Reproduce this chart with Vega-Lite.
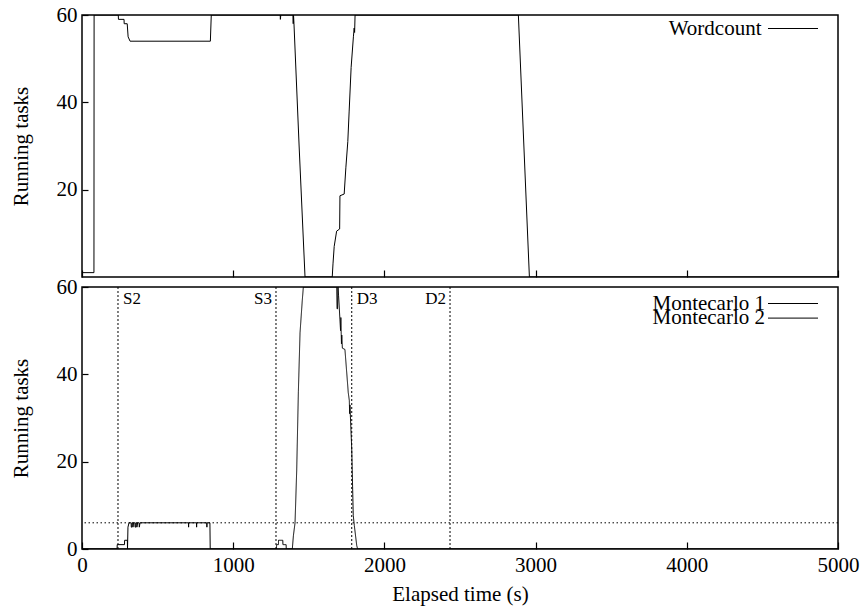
{
  "$schema": "https://vega.github.io/schema/vega-lite/v6.json",
  "padding": {"left": 9, "top": 3, "right": 4, "bottom": 4},
  "background": "white",
  "spacing": 10,
  "bounds": "flush",
  "resolve": {
    "scale": {"color": "independent", "strokeDash": "independent"},
    "legend": {"color": "independent", "strokeDash": "independent"}
  },
  "config": {
    "font": "Liberation Serif",
    "view": {"stroke": "black", "strokeWidth": 1.5},
    "text": {"font": "Liberation Serif"},
    "axis": {
      "domain": false,
      "grid": false,
      "ticks": true,
      "tickSize": -7,
      "tickColor": "black",
      "tickWidth": 1.2,
      "labelFont": "Liberation Serif",
      "labelFontSize": 21,
      "labelColor": "black",
      "labelPadding": 12,
      "labelFlush": false,
      "labelOverlap": false,
      "titleFont": "Liberation Serif",
      "titleFontSize": 21,
      "titleFontWeight": "normal",
      "titleColor": "black"
    }
  },
  "datasets": {
    "wordcount": [
      {"t": 0, "v": 1}, {"t": 79, "v": 1}, {"t": 80, "v": 60}, {"t": 240, "v": 60},
      {"t": 241, "v": 59}, {"t": 278, "v": 59}, {"t": 279, "v": 58}, {"t": 299, "v": 58},
      {"t": 305, "v": 55}, {"t": 318, "v": 54}, {"t": 849, "v": 54}, {"t": 855, "v": 60},
      {"t": 1311, "v": 60}, {"t": 1312, "v": 59}, {"t": 1315, "v": 60}, {"t": 1395, "v": 60},
      {"t": 1397, "v": 58}, {"t": 1399, "v": 60}, {"t": 1402, "v": 58}, {"t": 1436, "v": 30},
      {"t": 1475, "v": 0}, {"t": 1655, "v": 0}, {"t": 1660, "v": 3}, {"t": 1668, "v": 7},
      {"t": 1684, "v": 10.5}, {"t": 1704, "v": 11}, {"t": 1706, "v": 18.6}, {"t": 1734, "v": 19},
      {"t": 1745, "v": 25}, {"t": 1758, "v": 31}, {"t": 1767, "v": 38}, {"t": 1780, "v": 48},
      {"t": 1795, "v": 55}, {"t": 1800, "v": 57}, {"t": 1803, "v": 56}, {"t": 1806, "v": 60},
      {"t": 2886, "v": 60}, {"t": 2959, "v": 0}, {"t": 5000, "v": 0}
    ],
    "montecarlo": [
      {"series": "Montecarlo 1", "t": 0, "v": 0}, {"series": "Montecarlo 1", "t": 232, "v": 0},
      {"series": "Montecarlo 1", "t": 233, "v": 1}, {"series": "Montecarlo 1", "t": 281, "v": 1},
      {"series": "Montecarlo 1", "t": 282, "v": 2}, {"series": "Montecarlo 1", "t": 300, "v": 2},
      {"series": "Montecarlo 1", "t": 301, "v": 0}, {"series": "Montecarlo 1", "t": 304, "v": 5},
      {"series": "Montecarlo 1", "t": 311, "v": 6}, {"series": "Montecarlo 1", "t": 325, "v": 6},
      {"series": "Montecarlo 1", "t": 326, "v": 5}, {"series": "Montecarlo 1", "t": 330, "v": 5},
      {"series": "Montecarlo 1", "t": 331, "v": 6}, {"series": "Montecarlo 1", "t": 336, "v": 6},
      {"series": "Montecarlo 1", "t": 337, "v": 5}, {"series": "Montecarlo 1", "t": 341, "v": 6},
      {"series": "Montecarlo 1", "t": 350, "v": 6}, {"series": "Montecarlo 1", "t": 351, "v": 5},
      {"series": "Montecarlo 1", "t": 355, "v": 5}, {"series": "Montecarlo 1", "t": 356, "v": 6},
      {"series": "Montecarlo 1", "t": 362, "v": 6}, {"series": "Montecarlo 1", "t": 363, "v": 5},
      {"series": "Montecarlo 1", "t": 368, "v": 6}, {"series": "Montecarlo 1", "t": 378, "v": 6},
      {"series": "Montecarlo 1", "t": 379, "v": 5}, {"series": "Montecarlo 1", "t": 384, "v": 6},
      {"series": "Montecarlo 1", "t": 704, "v": 6}, {"series": "Montecarlo 1", "t": 705, "v": 5},
      {"series": "Montecarlo 1", "t": 706, "v": 6}, {"series": "Montecarlo 1", "t": 757, "v": 6},
      {"series": "Montecarlo 1", "t": 758, "v": 5}, {"series": "Montecarlo 1", "t": 759, "v": 6},
      {"series": "Montecarlo 1", "t": 825, "v": 6}, {"series": "Montecarlo 1", "t": 826, "v": 5},
      {"series": "Montecarlo 1", "t": 827, "v": 6}, {"series": "Montecarlo 1", "t": 846, "v": 6},
      {"series": "Montecarlo 1", "t": 848, "v": 0}, {"series": "Montecarlo 1", "t": 5000, "v": 0},
      {"series": "Montecarlo 2", "t": 0, "v": 0}, {"series": "Montecarlo 2", "t": 1286, "v": 0},
      {"series": "Montecarlo 2", "t": 1287, "v": 1}, {"series": "Montecarlo 2", "t": 1299, "v": 1},
      {"series": "Montecarlo 2", "t": 1300, "v": 2}, {"series": "Montecarlo 2", "t": 1328, "v": 2},
      {"series": "Montecarlo 2", "t": 1329, "v": 1}, {"series": "Montecarlo 2", "t": 1350, "v": 1},
      {"series": "Montecarlo 2", "t": 1351, "v": 0}, {"series": "Montecarlo 2", "t": 1391, "v": 0},
      {"series": "Montecarlo 2", "t": 1398, "v": 3}, {"series": "Montecarlo 2", "t": 1409, "v": 6},
      {"series": "Montecarlo 2", "t": 1420, "v": 18}, {"series": "Montecarlo 2", "t": 1431, "v": 36},
      {"series": "Montecarlo 2", "t": 1442, "v": 49.5}, {"series": "Montecarlo 2", "t": 1457, "v": 57},
      {"series": "Montecarlo 2", "t": 1464, "v": 60}, {"series": "Montecarlo 2", "t": 1685, "v": 60},
      {"series": "Montecarlo 2", "t": 1687, "v": 55}, {"series": "Montecarlo 2", "t": 1690, "v": 55},
      {"series": "Montecarlo 2", "t": 1693, "v": 60}, {"series": "Montecarlo 2", "t": 1697, "v": 58},
      {"series": "Montecarlo 2", "t": 1706, "v": 52.5}, {"series": "Montecarlo 2", "t": 1710, "v": 50},
      {"series": "Montecarlo 2", "t": 1712, "v": 53}, {"series": "Montecarlo 2", "t": 1716, "v": 47},
      {"series": "Montecarlo 2", "t": 1718, "v": 49}, {"series": "Montecarlo 2", "t": 1722, "v": 46},
      {"series": "Montecarlo 2", "t": 1739, "v": 45.7}, {"series": "Montecarlo 2", "t": 1761, "v": 35.8},
      {"series": "Montecarlo 2", "t": 1768, "v": 34}, {"series": "Montecarlo 2", "t": 1770, "v": 31},
      {"series": "Montecarlo 2", "t": 1772, "v": 33}, {"series": "Montecarlo 2", "t": 1784, "v": 22.9},
      {"series": "Montecarlo 2", "t": 1794, "v": 7.7}, {"series": "Montecarlo 2", "t": 1801, "v": 5.4},
      {"series": "Montecarlo 2", "t": 1817, "v": 0.8}, {"series": "Montecarlo 2", "t": 1823, "v": 0},
      {"series": "Montecarlo 2", "t": 5000, "v": 0}
    ],
    "events": [
      {"label": "S2", "t": 238},
      {"label": "S3", "t": 1283},
      {"label": "D3", "t": 1784},
      {"label": "D2", "t": 2434}
    ],
    "limit": [{"v": 6}]
  },
  "vconcat": [
    {
      "width": 756,
      "height": 262,
      "data": {"name": "wordcount"},
      "mark": {"type": "line", "strokeWidth": 1, "clip": true},
      "encoding": {
        "x": {
          "field": "t", "type": "quantitative",
          "scale": {"domain": [0, 5000], "nice": false},
          "axis": {"values": [0, 1000, 2000, 3000, 4000, 5000], "labels": false, "title": null}
        },
        "y": {
          "field": "v", "type": "quantitative",
          "scale": {"domain": [0, 60], "nice": false},
          "axis": {
            "values": [20, 40, 60], "format": "d", "title": "Running tasks", "titlePadding": 25,
            "tickSize": -6, "labelPadding": 11
          }
        },
        "color": {
          "datum": "Wordcount", "type": "nominal",
          "scale": {"range": ["black"]},
          "legend": {
            "title": null, "orient": "none", "legendX": 700.5, "legendY": 3, "padding": 0,
            "labelFont": "Liberation Serif", "labelFontSize": 21, "labelColor": "black",
            "labelAlign": "right", "labelOffset": -42, "labelLimit": 0,
            "symbolType": "M-5,0H5", "symbolSize": 100, "symbolStrokeWidth": 1,
            "symbolStrokeColor": "black"
          }
        }
      }
    },
    {
      "width": 756,
      "height": 262,
      "encoding": {
        "x": {
          "type": "quantitative",
          "scale": {"domain": [0, 5000], "nice": false},
          "axis": {
            "values": [0, 1000, 2000, 3000, 4000, 5000], "format": "d", "title": "Elapsed time (s)", "titlePadding": 8
          }
        }
      },
      "layer": [
        {
          "data": {"name": "events"},
          "mark": {"type": "rule", "strokeDash": [2, 2], "strokeWidth": 1, "color": "black"},
          "encoding": {"x": {"field": "t", "type": "quantitative"}}
        },
        {
          "data": {"name": "limit"},
          "mark": {"type": "rule", "strokeDash": [1.5, 2.5], "strokeWidth": 1, "color": "black"},
          "encoding": {
            "y": {"field": "v", "type": "quantitative", "scale": {"domain": [0, 60], "nice": false}}
          }
        },
        {
          "data": {"name": "events"},
          "transform": [{"filter": "datum.label === 'S2' || datum.label === 'D3'"}],
          "mark": {"type": "text", "align": "left", "baseline": "middle", "dx": 5, "fontSize": 17, "color": "black"},
          "encoding": {
            "x": {"field": "t", "type": "quantitative"},
            "y": {"datum": 57.3, "type": "quantitative"},
            "text": {"field": "label"}
          }
        },
        {
          "data": {"name": "events"},
          "transform": [{"filter": "datum.label === 'S3' || datum.label === 'D2'"}],
          "mark": {"type": "text", "align": "right", "baseline": "middle", "dx": -4, "fontSize": 17, "color": "black"},
          "encoding": {
            "x": {"field": "t", "type": "quantitative"},
            "y": {"datum": 57.3, "type": "quantitative"},
            "text": {"field": "label"}
          }
        },
        {
          "data": {"name": "montecarlo"},
          "transform": [{"filter": "datum.series === 'Montecarlo 1'"}],
          "mark": {"type": "line", "strokeWidth": 1, "clip": true},
          "encoding": {
            "x": {"field": "t", "type": "quantitative"},
            "y": {
              "field": "v", "type": "quantitative",
              "scale": {"domain": [0, 60], "nice": false},
              "axis": {
                "values": [0, 20, 40, 60], "format": "d", "title": "Running tasks", "titlePadding": 25,
                "tickSize": -6, "labelPadding": 11
              }
            },
            "color": {
              "field": "series", "type": "nominal",
              "scale": {"domain": ["Montecarlo 1"], "range": ["black"]},
              "legend": {
                "title": null, "orient": "none", "legendX": 700.5, "legendY": 6, "padding": 0,
                "labelFont": "Liberation Serif", "labelFontSize": 21, "labelColor": "black",
                "labelAlign": "right", "labelOffset": -38.5, "labelLimit": 0,
                "symbolType": "M-5,0H5", "symbolSize": 100, "symbolStrokeWidth": 1,
                "symbolStrokeColor": "black"
              }
            }
          }
        },
        {
          "data": {"name": "montecarlo"},
          "transform": [{"filter": "datum.series === 'Montecarlo 2'"}],
          "mark": {"type": "line", "strokeWidth": 1, "clip": true, "color": "black"},
          "encoding": {
            "x": {"field": "t", "type": "quantitative"},
            "y": {"field": "v", "type": "quantitative"},
            "strokeDash": {
              "field": "series", "type": "nominal",
              "scale": {"domain": ["Montecarlo 2"], "range": [[1, 0]]},
              "legend": {
                "title": null, "orient": "none", "legendX": 700.5, "legendY": 20.6, "padding": 0,
                "labelFont": "Liberation Serif", "labelFontSize": 21, "labelColor": "black",
                "labelAlign": "right", "labelOffset": -38.5, "labelLimit": 0,
                "symbolType": "M-5,0H5", "symbolSize": 100, "symbolStrokeWidth": 1,
                "symbolStrokeColor": "black", "symbolDash": [1, 0]
              }
            }
          }
        }
      ]
    }
  ]
}
